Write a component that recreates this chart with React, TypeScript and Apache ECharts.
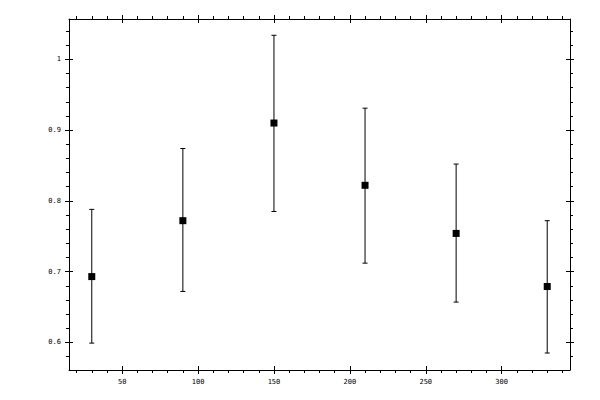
import { useEffect, useRef } from 'react'
import * as echarts from 'echarts'

// point positions and error bar ends
const xValues = [30, 90, 150, 210, 270, 330]
const yValues = [0.693, 0.772, 0.91, 0.822, 0.754, 0.679]
const lowValues = [0.599, 0.672, 0.785, 0.712, 0.657, 0.585]
const highValues = [0.788, 0.874, 1.034, 0.931, 0.852, 0.772]

// tick positions
const xTicks = [50, 100, 150, 200, 250, 300]
const xMinorTicks = [20, 30, 40, 60, 70, 80, 90, 110, 120, 130, 140, 160, 170, 180, 190, 210, 220, 230, 240, 260, 270, 280, 290, 310, 320, 330, 340]
const yTicks = [0.6, 0.7, 0.8, 0.9, 1]
const yMinorTicks = [0.58, 0.62, 0.64, 0.66, 0.68, 0.72, 0.74, 0.76, 0.78, 0.82, 0.84, 0.86, 0.88, 0.92, 0.94, 0.96, 0.98, 1.02, 1.04]

const X_MIN = 15
const X_MAX = 345
const Y_MIN = 0.561
const Y_MAX = 1.057

const FONT = 'DejaVu Sans Mono'

// one axis layer: line, ticks (inside or outside) and maybe labels
function axisLayer(
  kind: 'x' | 'y',
  position: string,
  ticks: number[],
  opts: { line?: boolean; inside?: boolean; length: number; labels?: boolean }
) {
  return {
    type: 'value',
    position,
    min: kind === 'x' ? X_MIN : Y_MIN,
    max: kind === 'x' ? X_MAX : Y_MAX,
    axisLine: {
      show: !!opts.line,
      lineStyle: { color: '#000', width: 1 }
    },
    axisTick: {
      show: true,
      inside: !!opts.inside,
      length: opts.length,
      customValues: ticks,
      lineStyle: { color: '#000', width: 1 }
    },
    axisLabel: {
      show: !!opts.labels,
      customValues: ticks,
      color: '#000',
      fontFamily: FONT,
      fontSize: 7,
      margin: 8,
      formatter: (v: number) => String(Math.round(v * 100) / 100)
    },
    splitLine: { show: false }
  }
}

export default function App() {
  const chartRef = useRef<HTMLDivElement>(null)

  useEffect(() => {
    if (!chartRef.current) return

    const chart = echarts.init(chartRef.current, null, { renderer: 'svg' })

    const points = xValues.map((x, i) => [x, yValues[i]])
    const bars = xValues.map((x, i) => [x, lowValues[i], highValues[i]])

    const xAxis = ['bottom', 'top'].flatMap(pos => [
      axisLayer('x', pos, xTicks, { line: true, length: 4, labels: pos === 'bottom' }),
      axisLayer('x', pos, xTicks, { inside: true, length: 4 }),
      axisLayer('x', pos, xMinorTicks, { length: 3 })
    ])
    const yAxis = ['left', 'right'].flatMap(pos => [
      axisLayer('y', pos, yTicks, { line: true, length: 4, labels: pos === 'left' }),
      axisLayer('y', pos, yTicks, { inside: true, length: 4 }),
      axisLayer('y', pos, yMinorTicks, { length: 3 })
    ])

    const option = {
      animation: false,
      backgroundColor: '#fff',
      grid: { left: 69, top: 19, right: 30, bottom: 30 },
      xAxis,
      yAxis,
      series: [
        {
          type: 'custom',
          data: bars,
          z: 1,
          renderItem: (_params: any, api: any) => {
            const x = api.value(0)
            const low = api.coord([x, api.value(1)])
            const high = api.coord([x, api.value(2)])
            const style = { stroke: '#000', lineWidth: 1 }
            const cap = 2.5
            return {
              type: 'group',
              children: [
                { type: 'line', shape: { x1: low[0], y1: low[1], x2: high[0], y2: high[1] }, style },
                { type: 'line', shape: { x1: low[0] - cap, y1: low[1], x2: low[0] + cap, y2: low[1] }, style },
                { type: 'line', shape: { x1: high[0] - cap, y1: high[1], x2: high[0] + cap, y2: high[1] }, style }
              ]
            }
          }
        },
        {
          type: 'scatter',
          data: points,
          z: 2,
          symbol: 'rect',
          symbolSize: 7,
          itemStyle: { color: '#000', opacity: 1 }
        }
      ]
    }

    chart.setOption(option)

    return () => {
      chart.dispose()
    }
  }, [])

  return (
    <div
      ref={chartRef}
      style={{ position: 'fixed', left: 0, top: 0, width: 600, height: 400 }}
    />
  )
}
